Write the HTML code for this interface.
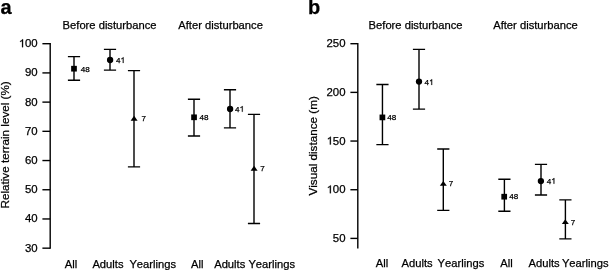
<!DOCTYPE html><html><head><meta charset="utf-8"><style>html,body{margin:0;padding:0;background:#fff;}svg{display:block;will-change:transform;}text{font-family:"Liberation Sans",sans-serif;fill:#000;font-kerning:none;stroke:#000;stroke-width:0.25px;}.h{fill:none;stroke:none;}</style></head><body>
<svg width="609" height="270" viewBox="0 0 609 270">
<rect width="609" height="270" fill="#fff"/>
<text x="0.6" y="14.3" font-size="20" font-weight="bold">a</text>
<text x="308.1" y="14.4" font-size="20" font-weight="bold">b</text>
<text x="62.6" y="28.8" font-size="11.2">Before disturbance</text>
<text x="178.3" y="28.8" font-size="11.2">After disturbance</text>
<text x="368.6" y="28.8" font-size="11.2">Before disturbance</text>
<text x="493.2" y="28.8" font-size="11.2">After disturbance</text>
<g stroke="#000" stroke-width="1.4" fill="none">
<path d="M50.2 43.00V248.87"/>
<path d="M42.4 248.17H50.2"/>
<path d="M42.4 218.96H50.2"/>
<path d="M42.4 189.75H50.2"/>
<path d="M42.4 160.54H50.2"/>
<path d="M42.4 131.33H50.2"/>
<path d="M42.4 102.12H50.2"/>
<path d="M42.4 72.91H50.2"/>
<path d="M42.4 43.70H50.2"/>
<path d="M357.8 43.00V248.4"/>
<path d="M350.4 238.40H357.8"/>
<path d="M350.4 189.73H357.8"/>
<path d="M350.4 141.05H357.8"/>
<path d="M350.4 92.38H357.8"/>
<path d="M350.4 43.70H357.8"/>
</g>
<text x="25.02" y="251.67" font-size="11.4">30</text>
<text x="25.02" y="222.46" font-size="11.4">40</text>
<text x="25.02" y="193.25" font-size="11.4">50</text>
<text x="25.02" y="164.04" font-size="11.4">60</text>
<text x="25.02" y="134.83" font-size="11.4">70</text>
<text x="25.02" y="105.62" font-size="11.4">80</text>
<text x="25.02" y="76.41" font-size="11.4">90</text>
<text x="18.68" y="47.20" font-size="11.4"><tspan class="h">1</tspan>00</text>
<path transform="translate(18.68 47.20) scale(0.00557 -0.00557)" d="M786 0L605 0L605 1130C560 1088 500 1046 435 1010C380 980 320 955 260 935L260 1105C365 1150 455 1202 527 1262C593 1318 638 1368 662 1409L786 1409Z" fill="#000" stroke="#000" stroke-width="44.9"/>
<text x="332.82" y="241.90" font-size="11.4">50</text>
<text x="326.48" y="193.23" font-size="11.4"><tspan class="h">1</tspan>00</text>
<path transform="translate(326.48 193.23) scale(0.00557 -0.00557)" d="M786 0L605 0L605 1130C560 1088 500 1046 435 1010C380 980 320 955 260 935L260 1105C365 1150 455 1202 527 1262C593 1318 638 1368 662 1409L786 1409Z" fill="#000" stroke="#000" stroke-width="44.9"/>
<text x="326.48" y="144.55" font-size="11.4"><tspan class="h">1</tspan>50</text>
<path transform="translate(326.48 144.55) scale(0.00557 -0.00557)" d="M786 0L605 0L605 1130C560 1088 500 1046 435 1010C380 980 320 955 260 935L260 1105C365 1150 455 1202 527 1262C593 1318 638 1368 662 1409L786 1409Z" fill="#000" stroke="#000" stroke-width="44.9"/>
<text x="326.48" y="95.88" font-size="11.4">200</text>
<text x="326.48" y="47.20" font-size="11.4">250</text>
<text transform="translate(8.9 144.9) rotate(-90)" font-size="11.7" text-anchor="middle">Relative terrain level (%)</text>
<text transform="translate(316.8 145.9) rotate(-90)" font-size="11.7" text-anchor="middle">Visual distance (m)</text>
<path d="M67.90 56.60H80.10M74.00 56.60V80.20M67.90 80.20H80.10" stroke="#000" stroke-width="1.4" fill="none"/>
<rect x="71.15" y="65.85" width="5.7" height="5.7" fill="#000"/>
<text x="80.80" y="71.60" font-size="8.1">48</text>
<path d="M103.90 49.40H116.10M110.00 49.40V70.10M103.90 70.10H116.10" stroke="#000" stroke-width="1.4" fill="none"/>
<circle cx="110.10" cy="60.00" r="3.15" fill="#000"/>
<text x="115.90" y="62.90" font-size="8.1">4<tspan class="h">1</tspan></text>
<path transform="translate(120.40 62.90) scale(0.00396 -0.00396)" d="M786 0L605 0L605 1130C560 1088 500 1046 435 1010C380 980 320 955 260 935L260 1105C365 1150 455 1202 527 1262C593 1318 638 1368 662 1409L786 1409Z" fill="#000" stroke="#000" stroke-width="63.2"/>
<path d="M127.90 70.60H140.10M134.00 70.60V166.90M127.90 166.90H140.10" stroke="#000" stroke-width="1.4" fill="none"/>
<path d="M134.10 115.80L137.60 120.70H130.60Z" fill="#000"/>
<text x="141.60" y="121.00" font-size="8.1">7</text>
<path d="M187.90 99.20H200.10M194.00 99.20V136.00M187.90 136.00H200.10" stroke="#000" stroke-width="1.4" fill="none"/>
<rect x="191.20" y="114.45" width="5.7" height="5.7" fill="#000"/>
<text x="199.50" y="119.90" font-size="8.1">48</text>
<path d="M223.90 89.80H236.10M230.00 89.80V127.90M223.90 127.90H236.10" stroke="#000" stroke-width="1.4" fill="none"/>
<circle cx="230.10" cy="109.00" r="3.15" fill="#000"/>
<text x="235.00" y="111.70" font-size="8.1">4<tspan class="h">1</tspan></text>
<path transform="translate(239.50 111.70) scale(0.00396 -0.00396)" d="M786 0L605 0L605 1130C560 1088 500 1046 435 1010C380 980 320 955 260 935L260 1105C365 1150 455 1202 527 1262C593 1318 638 1368 662 1409L786 1409Z" fill="#000" stroke="#000" stroke-width="63.2"/>
<path d="M247.90 114.40H260.10M254.00 114.40V223.50M247.90 223.50H260.10" stroke="#000" stroke-width="1.4" fill="none"/>
<path d="M254.10 165.70L257.60 170.70H250.60Z" fill="#000"/>
<text x="260.25" y="171.30" font-size="8.1">7</text>
<path d="M376.35 84.50H388.55M382.45 84.50V144.60M376.35 144.60H388.55" stroke="#000" stroke-width="1.4" fill="none"/>
<rect x="379.55" y="114.55" width="5.7" height="5.7" fill="#000"/>
<text x="387.30" y="119.80" font-size="8.1">48</text>
<path d="M412.90 49.40H425.10M419.00 49.40V109.10M412.90 109.10H425.10" stroke="#000" stroke-width="1.4" fill="none"/>
<circle cx="419.00" cy="81.60" r="3.15" fill="#000"/>
<text x="424.50" y="84.90" font-size="8.1">4<tspan class="h">1</tspan></text>
<path transform="translate(429.00 84.90) scale(0.00396 -0.00396)" d="M786 0L605 0L605 1130C560 1088 500 1046 435 1010C380 980 320 955 260 935L260 1105C365 1150 455 1202 527 1262C593 1318 638 1368 662 1409L786 1409Z" fill="#000" stroke="#000" stroke-width="63.2"/>
<path d="M437.20 149.00H449.40M443.30 149.00V210.40M437.20 210.40H449.40" stroke="#000" stroke-width="1.4" fill="none"/>
<path d="M443.30 181.00L446.80 185.70H439.80Z" fill="#000"/>
<text x="448.70" y="185.60" font-size="8.1">7</text>
<path d="M498.30 179.30H510.50M504.40 179.30V211.30M498.30 211.30H510.50" stroke="#000" stroke-width="1.4" fill="none"/>
<rect x="501.35" y="193.85" width="5.7" height="5.7" fill="#000"/>
<text x="509.30" y="199.00" font-size="8.1">48</text>
<path d="M534.90 164.40H547.10M541.00 164.40V195.00M534.90 195.00H547.10" stroke="#000" stroke-width="1.4" fill="none"/>
<circle cx="540.90" cy="181.10" r="3.15" fill="#000"/>
<text x="546.70" y="183.70" font-size="8.1">4<tspan class="h">1</tspan></text>
<path transform="translate(551.20 183.70) scale(0.00396 -0.00396)" d="M786 0L605 0L605 1130C560 1088 500 1046 435 1010C380 980 320 955 260 935L260 1105C365 1150 455 1202 527 1262C593 1318 638 1368 662 1409L786 1409Z" fill="#000" stroke="#000" stroke-width="63.2"/>
<path d="M559.30 199.90H571.50M565.40 199.90V238.90M559.30 238.90H571.50" stroke="#000" stroke-width="1.4" fill="none"/>
<path d="M565.30 219.30L568.80 224.10H561.80Z" fill="#000"/>
<text x="570.85" y="225.30" font-size="8.1">7</text>
<text x="64.8" y="268.1" font-size="11.2">All</text>
<text x="92.4" y="268.1" font-size="11.2">Adults</text>
<text x="129.4" y="268.1" font-size="11.2">Yearlings</text>
<text x="191.1" y="268.1" font-size="11.2">All</text>
<text x="214.2" y="268.1" font-size="11.2">Adults</text>
<text x="248.4" y="268.1" font-size="11.2">Yearlings</text>
<text x="375.8" y="267.0" font-size="11.2">All</text>
<text x="401.6" y="267.0" font-size="11.2">Adults</text>
<text x="437.6" y="267.0" font-size="11.2">Yearlings</text>
<text x="500.3" y="267.0" font-size="11.2">All</text>
<text x="528.5" y="267.0" font-size="11.2">Adults</text>
<text x="561.9" y="267.0" font-size="11.2">Yearlings</text>
</svg></body></html>
